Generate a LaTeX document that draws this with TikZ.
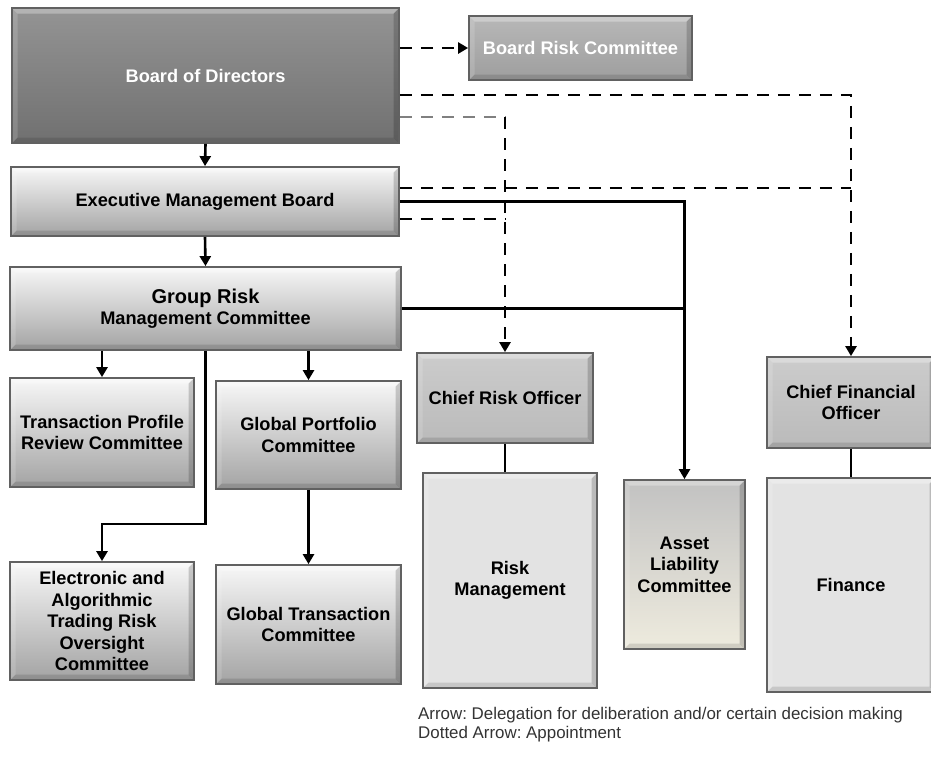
\documentclass[tikz,border=0pt]{standalone}
\usepackage{fontspec}
\setmainfont{Liberation Sans}
\usetikzlibrary{arrows.meta}

\begin{document}
\frenchspacing
\begin{tikzpicture}[x=1pt, y=-1pt, >={Triangle[length=10pt,width=11pt]},
    box/.style={draw=black!62, line width=1.8pt, align=center, inner sep=2pt,
      font=\fontsize{18.2}{21.5}\selectfont\bfseries,
      path picture={
        \fill[black, opacity=0.18]
          (path picture bounding box.north east) --
          (path picture bounding box.south east) --
          ([shift={(-5.5pt,5.5pt)}]path picture bounding box.south east) --
          ([shift={(-5.5pt,-5.5pt)}]path picture bounding box.north east) -- cycle;
        \fill[black, opacity=0.12]
          (path picture bounding box.south west) --
          (path picture bounding box.south east) --
          ([shift={(-5.5pt,5.5pt)}]path picture bounding box.south east) --
          ([shift={(5.5pt,5.5pt)}]path picture bounding box.south west) -- cycle;
        \fill[white, opacity=0.3]
          (path picture bounding box.north west) --
          (path picture bounding box.north east) --
          ([shift={(-5.5pt,-5.5pt)}]path picture bounding box.north east) --
          ([shift={(5.5pt,-5.5pt)}]path picture bounding box.north west) -- cycle;
        \fill[white, opacity=0.15]
          (path picture bounding box.north west) --
          (path picture bounding box.south west) --
          ([shift={(5.5pt,5.5pt)}]path picture bounding box.south west) --
          ([shift={(5.5pt,-5.5pt)}]path picture bounding box.north west) -- cycle;
      }},
    darkbox/.style={box, top color=black!42, bottom color=black!56, text=white},
    midbox/.style={box, top color=black!28, bottom color=black!38, text=white},
    lightbox/.style={box, top color=black!3, bottom color=black!36},
    officer/.style={box, top color=black!20, bottom color=black!27},
    unit/.style={box, fill=black!11},
    creambox/.style={box, top color=black!24, bottom color={rgb,255:red,238;green,235;blue,222}},
    deleg/.style={line width=2.6pt},
    appt/.style={line width=2.6pt, dash pattern=on 12pt off 9pt}]
  \useasboundingbox (0,0) rectangle (931,756);

  % boards and committees
  \node[darkbox, minimum width=387pt, minimum height=135pt] (bod) at (205.5,75.5) {Board of Directors};
  \node[midbox, minimum width=223pt, minimum height=64pt] (brc) at (580.5,48) {Board Risk Committee};
  \node[lightbox, minimum width=388pt, minimum height=69pt] (emb) at (205,201.5) {Executive Management Board};
  \node[lightbox, minimum width=391pt, minimum height=83pt] (grmc) at (205.5,308.5) {{\fontsize{20}{22}\selectfont Group Risk}\\Management Committee};
  \node[lightbox, minimum width=184pt, minimum height=109pt] (tprc) at (102,432.5) {Transaction Profile\\Review Committee};
  \node[lightbox, minimum width=185pt, minimum height=108pt] (gpc) at (308.5,435) {Global Portfolio\\Committee};
  \node[lightbox, minimum width=184pt, minimum height=118pt] (eat) at (102,621) {Electronic and\\Algorithmic\\Trading Risk\\Oversight\\Committee};
  \node[lightbox, minimum width=185pt, minimum height=119pt] (gtc) at (308.5,624.5) {Global Transaction\\Committee};

  % officers and their units
  \node[officer, minimum width=176pt, minimum height=90pt] (cro) at (505,398) {Chief Risk Officer};
  \node[unit, minimum width=174pt, minimum height=215pt] (rm) at (510,580.5) {Risk\\Management};
  \node[creambox, minimum width=121pt, minimum height=169pt] (alc) at (684.5,564.5) {Asset\\Liability\\Committee};
  \node[officer, minimum width=168pt, minimum height=91pt] (cfo) at (851,402.5) {Chief Financial\\Officer};
  \node[unit, minimum width=168pt, minimum height=214pt] (fin) at (851,585) {Finance};

  % legend
  \node[anchor=base west, inner sep=0pt, font=\fontsize{16.9}{19}\selectfont, text=black!80] (legA) at (418,719) {Arrow: Delegation for deliberation and/or certain decision making};
  \node[anchor=base west, inner sep=0pt, font=\fontsize{16.9}{19}\selectfont, text=black!80] (legB) at (418,738) {Dotted Arrow: Appointment};

  % connector ends
  \coordinate (bodA) at ([yshift=-19.5pt]bod.east);
  \coordinate (bodB) at ([yshift=-41.5pt]bod.east);
  \coordinate (embA) at ([yshift=13.5pt]emb.east);
  \coordinate (embB) at ([yshift=-17.5pt]emb.east);

  % delegation
  \draw[deleg, ->] (bod.south) -- (emb.north);
  \draw[deleg, ->] (emb.south) -- (grmc.north);
  \draw[deleg, ->] (grmc.south -| tprc.north) -- (tprc.north);
  \draw[deleg, ->] (grmc.south -| gpc.north) -- (gpc.north);
  \draw[deleg, ->] (grmc.south) -- ++(0,173) -| (eat.north);
  \draw[deleg, ->] (gpc.south) -- (gtc.north);
  \draw[deleg, ->] (emb.east) -| (alc.north);
  \draw[deleg] (grmc.east) -- (grmc.east -| alc.north);
  \draw[deleg] (cro.south) -- (cro.south |- rm.north);
  \draw[deleg] (cfo.south) -- (fin.north);

  % appointment
  \draw[appt, ->] (bod.east |- brc.west) -- (brc.west);
  \draw[appt, ->] (bodA) -| (cfo.north);
  \draw[appt] (embA) -- (embA -| cfo.north);
  \draw[appt, black!50, line width=1.8pt] (bodB) -- (bodB -| cro.north);
  \draw[appt, ->] (bodB -| cro.north) -- (cro.north);
  \draw[appt] (embB) -- (embB -| cro.north);
\end{tikzpicture}
\end{document}
